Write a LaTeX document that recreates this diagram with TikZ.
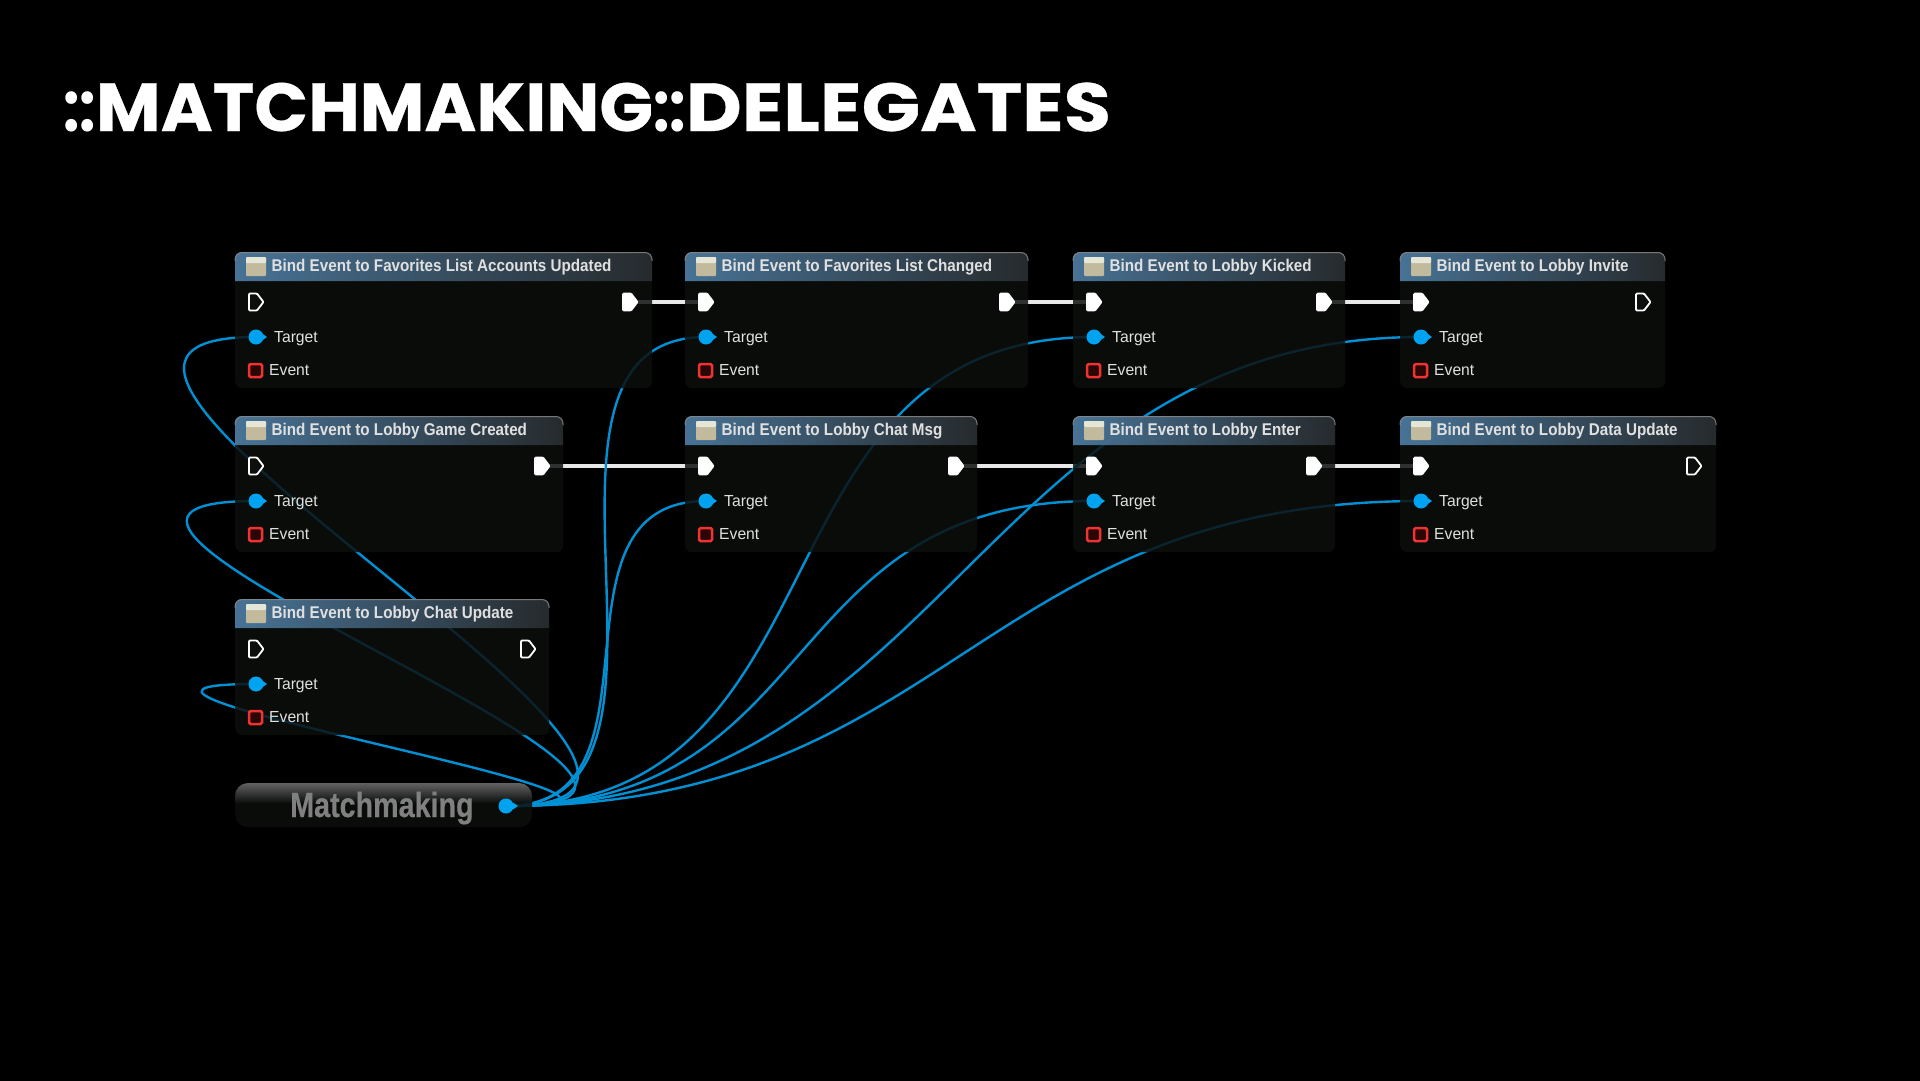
\documentclass[tikz,border=0pt]{standalone}
\usepackage{fontspec}
\setmainfont{Liberation Sans}
\newfontfamily\titlefont[FakeStretch=0.895]{Liberation Sans Bold}
\newfontfamily\pinfont[FakeStretch=0.98]{Liberation Sans}
\newfontfamily\mmfont[FakeStretch=0.82,FakeBold=0.4]{Liberation Sans Bold}
\newfontfamily\headfont[FakeStretch=1.037,FakeBold=0.5]{Poppins Bold}
\newfontfamily\headfontb[FakeStretch=1.13,FakeBold=0.5]{Poppins Bold}
\newfontfamily\colfont[FakeStretch=0.85]{Poppins Bold}
\definecolor{wirecol}{HTML}{0090D4}
\definecolor{pincol}{HTML}{00A3F0}
\definecolor{bodycol}{HTML}{0C0F0D}
\definecolor{hdrL}{HTML}{4F7FA6}
\definecolor{hdrR}{HTML}{2A2E31}
\definecolor{execcol}{HTML}{E8E8E8}
\definecolor{redpin}{HTML}{F03232}
\definecolor{redfill}{HTML}{2A0606}
\definecolor{iconA}{HTML}{E6E6D6}
\definecolor{iconB}{HTML}{C2BA9C}
\pgfdeclarelayer{wires}
\pgfsetlayers{wires,main}
\tikzset{
  wire/.style={draw=wirecol,line width=2.4pt},
  execwire/.style={draw=execcol,line width=3.4pt},
  body/.style={fill=bodycol,fill opacity=0.84,rounded corners=7pt,inner sep=0pt,anchor=north west},
  pinpt/.style={coordinate},
  ttl/.style={anchor=base west,text=black!12,inner sep=0pt,font=\titlefont\fontsize{17}{17}\selectfont},
  pinlbl/.style={anchor=base west,text=white!88!black,inner sep=0pt,font=\pinfont\fontsize{16}{16}\selectfont},
  execopen/.style={draw=white,line width=1.8pt,rounded corners=1pt,line join=round,fill=bodycol},
  execfull/.style={draw=white,fill=white,line width=1.8pt,rounded corners=1pt,line join=round},
}
\newcommand{\execshape}[2]{\path[#1] (#2) ++(-7,-8.5) -- ++(8,0) -- ++(6.5,8.5) -- ++(-6.5,8.5) -- ++(-8,0) -- cycle;}
% name, left, right, top, title, outx, in style, out style
\newcommand{\bpnode}[8]{%
  \node[body,minimum width={(#3-#2)*1pt},minimum height=136pt] (#1) at (#2,#4) {};
  \path[left color=hdrL,right color=hdrR,fill opacity=0.9]
    (#2,#4+29) [rounded corners=7pt] -- (#2,#4) -- (#3,#4) [sharp corners] -- (#3,#4+29) -- cycle;
  \draw[white!55!black,line width=1pt,rounded corners=7pt,opacity=.8] (#2,#4+9) -- (#2,#4+.5) -- (#3,#4+.5) -- (#3,#4+9);
  \fill[iconB,rounded corners=1pt] (#2+11,#4+5) rectangle (#2+31,#4+24);
  \fill[iconA,rounded corners=1pt] (#2+11,#4+5) rectangle (#2+31,#4+11);
  \node[ttl] (#1t) at (#2+36.5,#4+19.5) {#5};
  \node[pinpt] (#1in) at (#2+21,#4+50) {};
  \node[pinpt] (#1out) at (#6,#4+50) {};
  \node[pinpt] (#1tg) at (#2+21,#4+85) {};
  \node[pinpt] (#1ev) at (#2+20,#4+118) {};
  \execshape{#7}{#1in}
  \execshape{#8}{#1out}
  \fill[pincol] (#1tg) circle (7.5);
  \fill[pincol] (#2+27,#4+81.5) -- (#2+32,#4+85) -- (#2+27,#4+88.5) -- cycle;
  \path[draw=redpin,fill=redfill,line width=2.5pt,rounded corners=1.5pt] (#2+14,#4+112) rectangle (#2+27,#4+125);
  \node[pinlbl] (#1tl) at (#2+39,#4+90) {Target};
  \node[pinlbl] (#1el) at (#2+34,#4+123) {Event};
}
\begin{document}
\begin{tikzpicture}[x=1pt,y=-1pt]
\useasboundingbox (0,0) rectangle (1920,1080);
\begin{pgfonlayer}{wires}
\fill[black] (-5,-5) rectangle (1925,1085);
\end{pgfonlayer}
\node[anchor=base west,text=white,inner sep=0pt,font=\headfont\fontsize{68}{68}\selectfont] (head) at (63,131) {{\colfont::}MATCHMAKING{\colfont::}{\headfontb DELEGATES}};

\bpnode{a}{235}{652}{252}{Bind Event to Favorites List Accounts Updated}{630}{execopen}{execfull}
\bpnode{b}{685}{1028}{252}{Bind Event to Favorites List Changed}{1007}{execfull}{execfull}
\bpnode{c}{1073}{1345}{252}{Bind Event to Lobby Kicked}{1324}{execfull}{execfull}
\bpnode{d}{1400}{1665}{252}{Bind Event to Lobby Invite}{1643}{execfull}{execopen}
\bpnode{e}{235}{563}{416}{Bind Event to Lobby Game Created}{542}{execopen}{execfull}
\bpnode{f}{685}{977}{416}{Bind Event to Lobby Chat Msg}{956}{execfull}{execfull}
\bpnode{g}{1073}{1335}{416}{Bind Event to Lobby Enter}{1314}{execfull}{execfull}
\bpnode{h}{1400}{1716}{416}{Bind Event to Lobby Data Update}{1694}{execfull}{execopen}
\bpnode{i}{235}{549}{599}{Bind Event to Lobby Chat Update}{528}{execopen}{execopen}

% Matchmaking variable node
\node[fill=bodycol,fill opacity=0.84,rounded corners=13pt,inner sep=0pt,anchor=north west,minimum width=297pt,minimum height=44pt] (mm) at (235,783) {};
\path[top color=white!42!black,bottom color=bodycol,fill opacity=0.9]
  (235,803) [rounded corners=13pt] -- (235,783) -- (532,783) [sharp corners] -- (532,803) -- cycle;
\node[anchor=base west,inner sep=0pt,text=white!50!black,font=\mmfont\fontsize{35}{35}\selectfont] (mmt) at (290,817) {Matchmaking};
\node[pinpt] (mmp) at (506,806) {};
\fill[pincol] (mmp) circle (7.5);
\fill[pincol] (513,802.5) -- (518,806) -- (513,809.5) -- cycle;

\begin{pgfonlayer}{wires}
\foreach \p/\q in {a/b,b/c,c/d,e/f,f/g,g/h}{
  \draw[execwire] (\p out) -- (\q in);
}
\foreach \t/\k in {a/325,e/315,i/260,b/215,f/170,c/350,g/320,d/440,h/445}{
  \draw[wire] (mmp) .. controls +(\k,0) and +(-\k,0) .. (\t tg);
}
\end{pgfonlayer}
\end{tikzpicture}
\end{document}
